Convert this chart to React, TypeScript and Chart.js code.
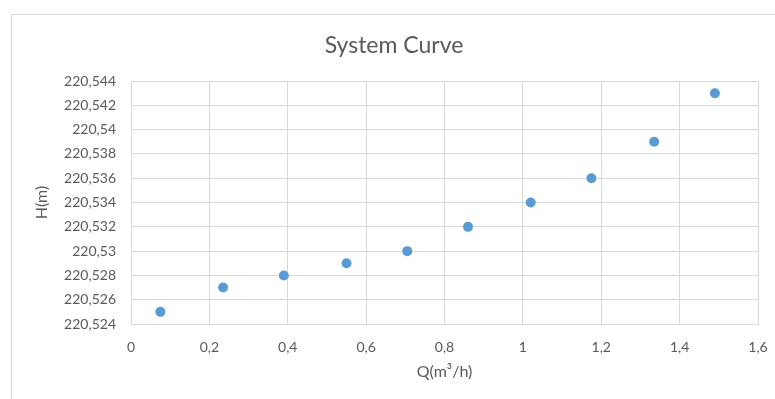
import React, { useEffect, useRef } from "react";
import { Chart, registerables } from "chart.js";

Chart.register(...registerables);

const flowQ = [0.075, 0.235, 0.39, 0.55, 0.705, 0.86, 1.02, 1.175, 1.335, 1.49];
const headH = [220.525, 220.527, 220.528, 220.529, 220.53, 220.532, 220.534, 220.536, 220.539, 220.543];
const xTicks = [0, 0.2, 0.4, 0.6, 0.8, 1.0, 1.2, 1.4, 1.6];
const yTicks = [220.524, 220.526, 220.528, 220.53, 220.532, 220.534, 220.536, 220.538, 220.54, 220.542, 220.544];

const TEXT = "#595959";
const GRID = "#d9d9d9";
const FONT = "Lato";

const fmt = (v: number) => String(+Number(v).toFixed(3)).replace(".", ",");

export default function App() {
  const ref = useRef<HTMLCanvasElement | null>(null);

  useEffect(() => {
    if (!ref.current) return;
    const chart = new Chart(ref.current, {
      type: "scatter",
      data: {
        datasets: [
          {
            label: "H",
            data: flowQ.map((q, i) => ({ x: q, y: headH[i] })),
            backgroundColor: "#5b9bd5",
            borderColor: "#5b9bd5",
            borderWidth: 0,
            pointRadius: 5,
            pointHoverRadius: 5,
            showLine: false,
          },
        ],
      },
      options: {
        responsive: false,
        devicePixelRatio: 1,
        animation: false,
        layout: { padding: { left: 13, right: 0, top: 0, bottom: 0 } },
        plugins: {
          legend: { display: false },
          tooltip: { enabled: false },
          title: {
            display: true,
            text: "System Curve",
            color: TEXT,
            font: { family: FONT, size: 23, weight: "normal", lineHeight: 1.2 },
            padding: { top: 31.5, bottom: 22 },
          },
        },
        scales: {
          x: {
            type: "linear",
            min: 0,
            max: 1.6,
            afterBuildTicks: (s: any) => {
              s.ticks = xTicks.map((v) => ({ value: v }));
            },
            afterFit: (s: any) => {
              s.height = 75;
              s.paddingLeft = 0;
              s.paddingRight = 17;
            },
            ticks: {
              color: TEXT,
              font: { family: FONT, size: 14, lineHeight: 1.2 },
              padding: 15,
              maxRotation: 0,
              callback: (v: any) => fmt(v),
            },
            grid: { color: GRID, drawTicks: false, lineWidth: 1 },
            border: { display: true, color: GRID },
            title: {
              display: true,
              text: "Q(m³/h)",
              color: TEXT,
              font: { family: FONT, size: 16, lineHeight: 1.2 },
              padding: { top: 0, bottom: 17.4 },
            },
          },
          y: {
            type: "linear",
            min: 220.524,
            max: 220.544,
            afterBuildTicks: (s: any) => {
              s.ticks = yTicks.map((v) => ({ value: v }));
            },
            afterFit: (s: any) => {
              s.width = 118;
            },
            ticks: {
              color: TEXT,
              font: { family: FONT, size: 14, lineHeight: 1.2 },
              padding: 15,
              callback: (v: any) => fmt(v),
            },
            grid: { color: GRID, drawTicks: false, lineWidth: 1 },
            border: { display: true, color: GRID },
            title: {
              display: true,
              text: "H(m)",
              color: TEXT,
              font: { family: FONT, size: 16, lineHeight: 1.2 },
              padding: { top: 19, bottom: 0 },
            },
          },
        },
      },
    });
    return () => chart.destroy();
  }, []);

  return (
    <div
      style={{
        position: "fixed",
        left: 0,
        top: 0,
        width: 775,
        height: 399,
        background: "#ffffff",
        overflow: "hidden",
      }}
    >
      <div
        style={{
          position: "absolute",
          left: 11,
          top: 14,
          width: 800,
          height: 420,
          borderLeft: `1px solid ${GRID}`,
          borderTop: `1px solid ${GRID}`,
        }}
      />
      <canvas
        ref={ref}
        width={775}
        height={399}
        style={{ position: "absolute", left: 0, top: 0, display: "block" }}
      />
    </div>
  );
}
